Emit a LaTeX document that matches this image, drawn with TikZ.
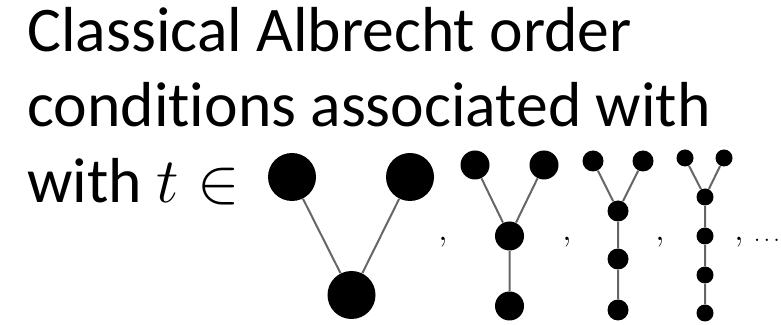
\RequirePackage{fix-cm}
\documentclass[tikz,border=0pt]{standalone}
\usepackage{fontspec}
\setmainfont{Carlito}[Ligatures=NoCommon]
\usetikzlibrary{positioning}

\begin{document}
\begin{tikzpicture}[x=0.5pt, y=-0.5pt,
    vtx/.style={circle, fill=black, inner sep=0pt, minimum size=#1},
    link/.style={draw=black!60, line width=1pt},
    headline/.style={anchor=base west, inner sep=0pt, font=\fontsize{31.8}{38}\selectfont},
    sepmark/.style={anchor=base, inner sep=0pt, font=\fontsize{17}{19}\selectfont}]
    \useasboundingbox (0,0) rectangle (781,325);

    % Heading
    \node[headline] (lineA) at (27,52) {Classical Albrecht order};
    \node[headline] (lineB) at (27,127) {conditions associated with};
    \node[headline] (lineC) at (27,203) {with $t$\hspace{9pt}$\in$};

    % First tree
    \node[vtx=24pt] (a1) at (292,177) {};
    \node[vtx=24pt] (a2) at (410,177) {};
    \node[vtx=24pt] (a0) at (351.5,295) {};
    \draw[link] (a1) -- (a0) (a2) -- (a0);
    \node[sepmark] (s1) at (443,241) {$,$};

    % Second tree
    \node[vtx=14.5pt] (b1) at (475,165) {};
    \node[vtx=14.5pt] (b2) at (544,165) {};
    \node[vtx=14.5pt] (b3) at (509.5,236) {};
    \node[vtx=14.5pt] (b4) at (509.5,306) {};
    \draw[link] (b1) -- (b3) (b2) -- (b3) (b3) -- (b4);
    \node[sepmark] (s2) at (567,241) {$,$};

    % Third tree
    \node[vtx=10.5pt] (c1) at (593,161) {};
    \node[vtx=10.5pt] (c2) at (643,161) {};
    \foreach \i/\y in {3/211,4/259,5/310} {
        \node[vtx=10.5pt] (c\i) at (618,\y) {};
    }
    \draw[link] (c1) -- (c3) (c2) -- (c3) (c3) -- (c4) (c4) -- (c5);
    \node[sepmark] (s3) at (660,241) {$,$};

    % Fourth tree
    \node[vtx=8.5pt] (d1) at (685,158) {};
    \node[vtx=8.5pt] (d2) at (724,158) {};
    \foreach \i/\y in {3/197,4/236,5/275,6/313} {
        \node[vtx=8.5pt] (d\i) at (705,\y) {};
    }
    \draw[link] (d1) -- (d3) (d2) -- (d3) (d3) -- (d4) (d4) -- (d5) (d5) -- (d6);
    \node[sepmark] (s4) at (739,241) {$,$};
    \node[sepmark, font=\fontsize{11}{13}\selectfont] (more) at (767,242) {$\dots$};
\end{tikzpicture}
\end{document}
